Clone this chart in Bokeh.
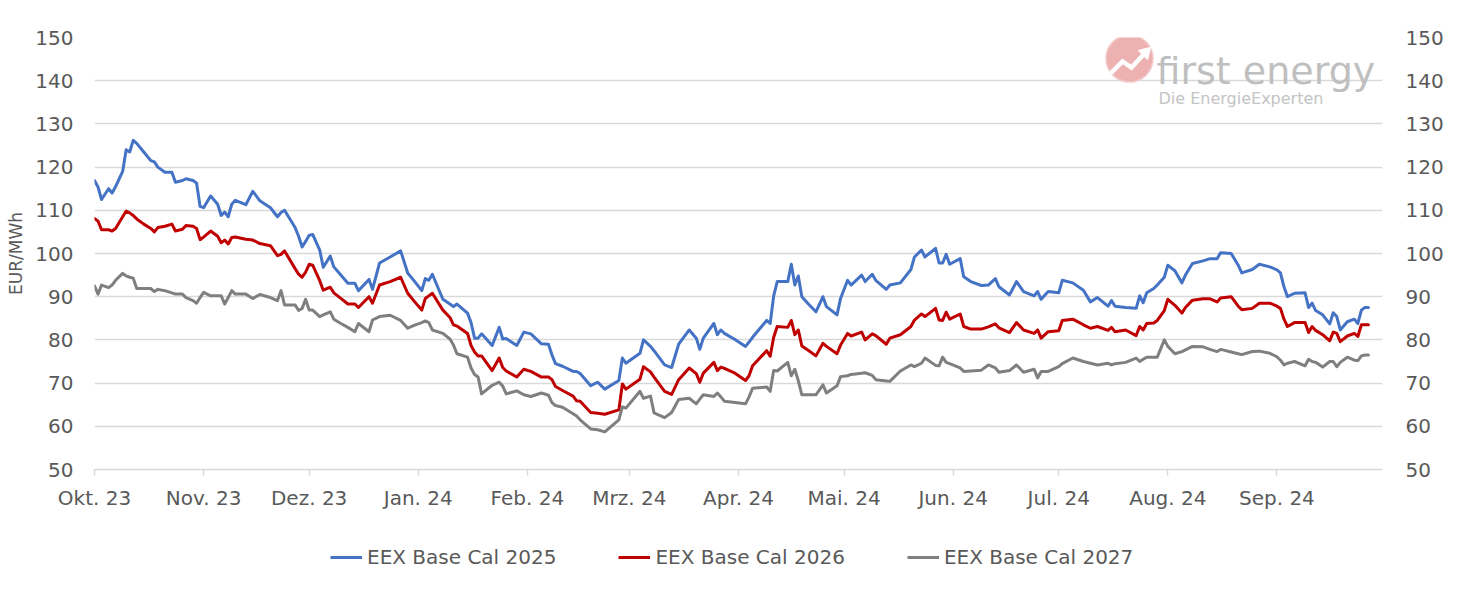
import pandas as pd
from bokeh.plotting import figure
from bokeh.layouts import column
from bokeh.models import (Range1d, LinearAxis, FixedTicker, Legend, LegendItem,
                          ColumnDataSource)
from bokeh.embed import file_html
from bokeh.resources import INLINE
from bokeh.core.properties import value

# ---------------- data ----------------
dates = [
    "2023-10-01", "2023-10-02", "2023-10-03", "2023-10-05", "2023-10-06", "2023-10-07",
    "2023-10-09", "2023-10-10", "2023-10-11", "2023-10-12", "2023-10-13", "2023-10-15",
    "2023-10-17", "2023-10-18", "2023-10-19", "2023-10-21", "2023-10-23", "2023-10-24",
    "2023-10-26", "2023-10-27", "2023-10-29", "2023-10-30", "2023-10-31", "2023-11-01",
    "2023-11-03", "2023-11-05", "2023-11-06", "2023-11-07", "2023-11-08", "2023-11-09",
    "2023-11-10", "2023-11-13", "2023-11-15", "2023-11-17", "2023-11-20", "2023-11-22",
    "2023-11-23", "2023-11-24", "2023-11-27", "2023-11-28", "2023-11-29", "2023-11-30",
    "2023-12-01",
    "2023-12-02", "2023-12-04", "2023-12-05", "2023-12-07", "2023-12-08", "2023-12-10",
    "2023-12-12", "2023-12-14", "2023-12-15", "2023-12-18", "2023-12-19", "2023-12-21",
    "2023-12-24", "2023-12-27", "2023-12-29", "2023-12-31", "2024-01-02", "2024-01-03",
    "2024-01-04", "2024-01-05", "2024-01-08", "2024-01-10", "2024-01-11", "2024-01-12",
    "2024-01-15", "2024-01-16", "2024-01-17", "2024-01-18", "2024-01-19", "2024-01-22",
    "2024-01-24", "2024-01-25", "2024-01-26", "2024-01-29",
    "2024-01-31", "2024-02-02", "2024-02-05", "2024-02-07", "2024-02-08", "2024-02-09",
    "2024-02-11", "2024-02-14", "2024-02-15", "2024-02-16", "2024-02-19", "2024-02-21",
    "2024-02-23", "2024-02-27", "2024-02-28", "2024-02-29", "2024-03-04", "2024-03-05",
    "2024-03-07", "2024-03-08", "2024-03-11", "2024-03-13", "2024-03-15", "2024-03-18",
    "2024-03-20", "2024-03-21", "2024-03-22", "2024-03-25", "2024-03-26", "2024-03-27",
    "2024-03-28", "2024-03-31", "2024-04-03", "2024-04-04", "2024-04-05", "2024-04-09",
    "2024-04-10", "2024-04-11", "2024-04-12", "2024-04-15", "2024-04-16", "2024-04-17",
    "2024-04-18", "2024-04-19", "2024-04-21", "2024-04-23", "2024-04-25", "2024-04-26",
    "2024-04-29", "2024-04-30", "2024-05-02", "2024-05-03", "2024-05-06", "2024-05-07",
    "2024-05-09", "2024-05-10", "2024-05-13", "2024-05-14", "2024-05-17", "2024-05-20",
    "2024-05-21", "2024-05-23", "2024-05-24", "2024-05-27",
    "2024-05-28", "2024-05-29", "2024-05-30", "2024-05-31", "2024-06-03", "2024-06-04",
    "2024-06-06", "2024-06-09", "2024-06-11", "2024-06-13", "2024-06-14", "2024-06-17",
    "2024-06-19", "2024-06-21", "2024-06-24", "2024-06-25", "2024-06-26", "2024-06-28",
    "2024-07-01", "2024-07-02", "2024-07-05", "2024-07-08", "2024-07-10", "2024-07-12",
    "2024-07-15", "2024-07-16", "2024-07-17", "2024-07-20", "2024-07-23", "2024-07-24",
    "2024-07-25", "2024-07-26",
    "2024-07-28", "2024-07-29", "2024-07-31", "2024-08-01", "2024-08-03", "2024-08-05",
    "2024-08-06", "2024-08-08", "2024-08-11", "2024-08-13", "2024-08-15", "2024-08-16",
    "2024-08-19", "2024-08-21", "2024-08-22", "2024-08-25", "2024-08-27", "2024-08-30",
    "2024-09-01", "2024-09-02", "2024-09-03", "2024-09-04", "2024-09-06", "2024-09-09",
    "2024-09-10", "2024-09-11", "2024-09-12", "2024-09-14", "2024-09-16", "2024-09-17",
    "2024-09-18", "2024-09-19", "2024-09-21", "2024-09-23", "2024-09-24", "2024-09-25",
    "2024-09-26", "2024-09-27",
]

cal_2025 = [
    116.9, 115.4, 112.5, 115.0, 114.0, 115.5, 119.0, 124.0, 123.5, 126.2, 125.5, 123.5,
    121.5, 121.2, 120.0, 118.8, 118.8, 116.5, 116.9, 117.3, 116.9, 116.3, 110.9, 110.6,
    113.3, 111.4, 108.8, 109.6, 108.5, 111.4, 112.3, 111.3, 114.4, 112.2, 110.6, 108.5,
    109.5, 110.0, 106.0, 104.0, 101.5, 102.8, 104.2,
    104.4, 100.8, 96.8, 99.4, 96.9, 95.0, 93.1, 93.1, 91.4, 94.0, 91.7, 97.8,
    99.2, 100.6, 95.5, 93.5, 91.4, 94.2, 93.8, 95.2, 89.4, 88.3, 87.7, 88.3,
    86.2, 84.0, 80.4, 80.4, 81.4, 78.7, 82.9, 80.2, 80.3, 78.7,
    81.8, 81.4, 79.1, 79.0, 76.5, 74.5, 73.9, 72.7, 72.7, 72.2, 69.4, 70.2,
    68.6, 70.6, 75.8, 74.6, 76.9, 80.0, 78.5, 77.5, 74.2, 73.6, 79.0, 82.3,
    80.4, 77.8, 80.4, 83.8, 81.2, 82.3,
    81.5, 80.1, 78.5, 79.5, 80.6, 84.5, 83.8, 90.2, 93.5, 93.5, 97.5, 92.7,
    94.8, 90.0, 88.2, 86.5, 90.0, 87.7, 85.8, 89.6, 93.8, 92.7, 95.0, 93.5,
    95.2, 93.8, 91.7, 92.7, 93.2, 96.3, 99.2, 100.8, 99.2, 101.2,
    97.8, 97.8, 99.8, 97.5, 98.8, 94.6, 93.5, 92.6, 92.7, 94.2, 92.3, 90.4,
    93.5, 91.2, 90.2, 91.2, 89.4, 91.2, 90.9, 93.8, 93.2, 91.5, 88.8, 89.8,
    87.8, 89.1, 87.8, 87.5, 87.3, 90.2, 88.6, 90.9,
    91.9, 92.7, 94.5, 97.3, 96.0, 93.2, 95.0, 97.7, 98.3, 98.8, 98.8, 100.2,
    100.0, 97.3, 95.5, 96.3, 97.5, 96.9, 96.2, 95.5, 92.3, 90.0, 90.8, 90.9,
    87.5, 88.5, 86.8, 85.8, 83.7, 86.3, 85.4, 82.3, 84.2, 84.8, 83.8, 86.9,
    87.5, 87.5,
]

cal_2026 = [
    108.1, 107.5, 105.5, 105.5, 105.2, 105.8, 108.5, 109.8, 109.4, 108.8, 108.0, 106.8,
    105.8, 105.0, 106.0, 106.3, 106.8, 105.2, 105.6, 106.5, 106.3, 105.8, 103.2, 103.8,
    105.2, 104.0, 102.5, 103.1, 102.2, 103.7, 103.8, 103.3, 103.1, 102.3, 101.8, 99.5,
    99.8, 100.6, 96.5, 95.2, 94.5, 95.7, 97.5,
    97.3, 93.7, 91.5, 92.2, 90.9, 89.6, 88.3, 88.3, 87.5, 90.0, 88.5, 92.7,
    93.5, 94.5, 90.8, 88.8, 86.9, 89.6, 90.2, 90.8, 86.9, 85.2, 83.5, 83.2,
    81.5, 78.7, 77.2, 76.3, 76.3, 72.9, 75.8, 73.6, 72.8, 71.4,
    73.2, 72.7, 71.4, 71.4, 70.8, 69.2, 68.3, 67.0, 65.9, 65.8, 63.2, 63.0,
    62.8, 63.8, 69.8, 68.6, 70.9, 73.8, 72.6, 71.4, 68.1, 67.4, 70.8, 73.5,
    72.2, 70.2, 72.3, 74.8, 72.9, 73.7,
    73.4, 72.3, 70.6, 71.7, 74.0, 77.5, 76.2, 80.6, 83.1, 82.9, 84.5, 81.2,
    82.3, 78.6, 77.5, 76.3, 79.2, 78.5, 76.8, 78.8, 81.5, 80.9, 81.8, 80.0,
    81.4, 81.0, 79.0, 80.4, 81.2, 83.1, 84.6, 86.0, 85.4, 87.3,
    84.6, 84.5, 86.4, 84.8, 86.0, 83.1, 82.5, 82.5, 83.0, 83.7, 82.8, 81.7,
    84.0, 82.3, 81.5, 82.3, 80.4, 81.9, 82.1, 84.5, 84.8, 83.5, 82.7, 83.1,
    82.2, 82.9, 81.9, 82.3, 81.0, 83.1, 82.3, 83.8,
    83.9, 84.5, 86.8, 89.4, 88.0, 86.2, 87.5, 89.2, 89.5, 89.5, 88.8, 89.7,
    90.0, 87.8, 87.0, 87.3, 88.5, 88.5, 87.8, 87.3, 84.8, 83.1, 84.0, 84.0,
    81.7, 83.1, 82.2, 81.2, 79.8, 81.8, 81.5, 79.6, 80.9, 81.5, 80.8, 83.5,
    83.5, 83.5,
]

cal_2027 = [
    92.5, 90.6, 92.7, 92.1, 92.7, 93.8, 95.4, 94.8, 94.5, 94.3, 91.9, 91.9,
    91.9, 91.2, 91.7, 91.4, 90.9, 90.6, 90.6, 89.8, 89.1, 88.5, 89.8, 91.0,
    90.2, 90.2, 90.2, 88.3, 89.8, 91.4, 90.6, 90.6, 89.6, 90.5, 89.8, 89.1,
    91.4, 88.1, 88.1, 86.8, 87.3, 89.4, 86.9,
    86.9, 85.4, 85.8, 86.5, 84.8, 83.8, 82.9, 81.9, 83.8, 81.9, 84.6, 85.4,
    85.7, 84.5, 82.7, 83.4, 84.0, 84.4, 84.0, 82.3, 81.5, 80.2, 78.8, 76.8,
    76.0, 73.5, 72.0, 71.4, 67.5, 69.5, 70.2, 69.3, 67.5, 68.2,
    67.3, 66.9, 67.7, 67.2, 65.5, 64.8, 64.4, 62.9, 62.4, 61.5, 59.4, 59.2,
    58.7, 61.5, 64.5, 64.2, 68.1, 66.5, 67.0, 63.1, 62.0, 63.2, 66.2, 66.5,
    65.2, 66.3, 67.3, 66.9, 67.7, 66.8,
    65.8, 65.5, 65.2, 66.8, 68.8, 69.1, 68.1, 72.9, 72.8, 74.8, 71.7, 73.2,
    70.5, 67.3, 67.3, 67.3, 69.6, 67.7, 69.4, 71.5, 71.7, 72.0, 72.3, 72.4,
    71.8, 70.8, 70.5, 70.4, 72.8, 74.2, 73.8, 74.6, 75.8, 74.1,
    74.0, 76.0, 74.8, 74.5, 73.5, 72.7, 72.8, 73.0, 74.2, 73.5, 72.5, 72.9,
    74.2, 72.5, 73.2, 71.2, 72.7, 72.7, 73.8, 74.5, 75.8, 75.0, 74.6, 74.2,
    74.6, 74.2, 74.5, 74.8, 75.8, 75.0, 75.5, 76.0,
    76.0, 76.0, 80.0, 78.5, 76.8, 77.3, 77.7, 78.5, 78.4, 77.8, 77.3, 77.8,
    77.2, 76.8, 76.6, 77.3, 77.4, 76.9, 76.1, 75.3, 74.2, 74.6, 75.0, 74.0,
    75.5, 75.0, 74.8, 73.7, 75.0, 75.0, 73.8, 74.8, 76.0, 75.3, 75.2, 76.3,
    76.5, 76.5,
]

series_names = ["EEX Base Cal 2025", "EEX Base Cal 2026", "EEX Base Cal 2027"]
series_colors = ["#4472C4", "#C00000", "#7F7F7F"]

month_ticks = ["2023-10-01", "2023-11-01", "2023-12-01", "2024-01-01", "2024-02-01",
               "2024-03-01", "2024-04-01", "2024-05-01", "2024-06-01", "2024-07-01",
               "2024-08-01", "2024-09-01"]
month_labels = ["Okt. 23", "Nov. 23", "Dez. 23", "Jan. 24", "Feb. 24", "Mrz. 24",
                "Apr. 24", "Mai. 24", "Jun. 24", "Jul. 24", "Aug. 24", "Sep. 24"]
y_ticks = [50, 60, 70, 80, 90, 100, 110, 120, 130, 140, 150]
y_title = "EUR/MWh"
logo_title = "first energy"
logo_subtitle = "Die EnergieExperten"

# ---------------- styling ----------------
FONT = "DejaVu Sans"
TXT = "#595959"
GRID = "#d9d9d9"
W = 1463

src = ColumnDataSource(dict(x=pd.to_datetime(dates), a=cal_2025, b=cal_2026, c=cal_2027))

p = figure(width=W, height=514, x_axis_type="datetime",
           x_range=Range1d(pd.Timestamp("2023-10-01"), pd.Timestamp("2024-10-01")),
           y_range=Range1d(50, 150),
           output_backend="svg", toolbar_location=None,
           min_border_left=94, min_border_right=81, min_border_top=37,
           min_border_bottom=45,
           background_fill_color="white", border_fill_color="white",
           outline_line_color=None)

# frame-pixel ranges for the decorative logo
p.extra_x_ranges = {"px": Range1d(0, 1288)}
p.extra_y_ranges = {"py": Range1d(0, 432)}

tick_ms = [pd.Timestamp(d).value / 1e6 for d in month_ticks]
xa = p.xaxis[0]
xa.ticker = FixedTicker(ticks=tick_ms)
xa.major_label_overrides = dict(zip(tick_ms, month_labels))
xa.axis_line_color = GRID
xa.axis_line_width = 1.5
xa.major_tick_line_color = GRID
xa.major_tick_line_width = 1.5
xa.major_tick_out = 6
xa.major_tick_in = 0
xa.minor_tick_line_color = None
xa.major_label_standoff = 10
xa.major_label_text_font = FONT
xa.major_label_text_font_size = "20px"
xa.major_label_text_color = TXT

ya = p.yaxis[0]
ya.ticker = FixedTicker(ticks=y_ticks)
ya.axis_label = y_title
ya.axis_label_text_font = FONT
ya.axis_label_text_font_size = "17px"
ya.axis_label_text_font_style = "normal"
ya.axis_label_text_color = TXT
ya.axis_label_standoff = 6

ra = LinearAxis(ticker=FixedTicker(ticks=y_ticks))
p.add_layout(ra, "right")
for ax, so in ((ya, 21), (ra, 23)):
    ax.axis_line_color = None
    ax.major_tick_line_color = None
    ax.major_tick_out = 0
    ax.major_tick_in = 0
    ax.minor_tick_line_color = None
    ax.major_label_standoff = so
    ax.major_label_text_font = FONT
    ax.major_label_text_font_size = "20px"
    ax.major_label_text_color = TXT

p.xgrid.visible = False
p.ygrid.ticker = FixedTicker(ticks=y_ticks)
p.ygrid.grid_line_color = GRID
p.ygrid.grid_line_width = 1.5

# ---------------- logo (decoration, frame pixel coordinates) ----------------
p.scatter(x=[1035], y=[411], size=47, marker="circle", fill_color="#eba9a9",
          line_color="#f3caca", line_width=1.5, fill_alpha=0.9,
          x_range_name="px", y_range_name="py")
p.line(x=[1016, 1028, 1037, 1050], y=[396, 408, 402, 416], line_color="white",
       line_width=4.5, line_join="miter", x_range_name="px", y_range_name="py")
p.scatter(x=[1051], y=[417], size=13, marker="triangle", angle=-0.785,
          fill_color="white", line_color="white", x_range_name="px", y_range_name="py")
p.text(x=[1062], y=[399], text=[logo_title], text_font=value(FONT),
       text_font_size="38px", text_color="#bfbfbf", text_baseline="alphabetic",
       text_align="left", x_range_name="px", y_range_name="py")
p.text(x=[1064], y=[371], text=[logo_subtitle], text_font=value(FONT),
       text_font_size="16px", text_color="#c4c4c4", text_baseline="alphabetic",
       text_align="left", x_range_name="px", y_range_name="py")

# ---------------- series ----------------
for col, color in zip(["a", "b", "c"], series_colors):
    p.line("x", col, source=src, line_color=color, line_width=3,
           line_join="round", line_cap="round")

# ---------------- legend strip (separate figure below the chart) ----------------
lg = figure(width=W, height=62, x_range=Range1d(0, 1), y_range=Range1d(0, 1),
            output_backend="svg", toolbar_location=None,
            min_border_left=0, min_border_right=0, min_border_top=0, min_border_bottom=0,
            background_fill_color="white", border_fill_color="white",
            outline_line_color=None)
lg.axis.visible = False
lg.grid.visible = False
# legend keys: line renderers whose points lie outside the visible range
keys = [lg.line(x=[5, 6], y=[5, 6], line_color=c, line_width=3) for c in series_colors]
legend = Legend(items=[LegendItem(label=n, renderers=[r])
                       for n, r in zip(series_names, keys)],
                location=(236, 7), orientation="horizontal",
                glyph_width=32, glyph_height=20, label_standoff=5, spacing=62,
                padding=0, margin=0, border_line_color=None,
                background_fill_alpha=0,
                label_text_font=FONT, label_text_font_size="20px",
                label_text_color=TXT)
lg.add_layout(legend)

open("out.html", "w").write(file_html(column(p, lg, spacing=0), INLINE))
